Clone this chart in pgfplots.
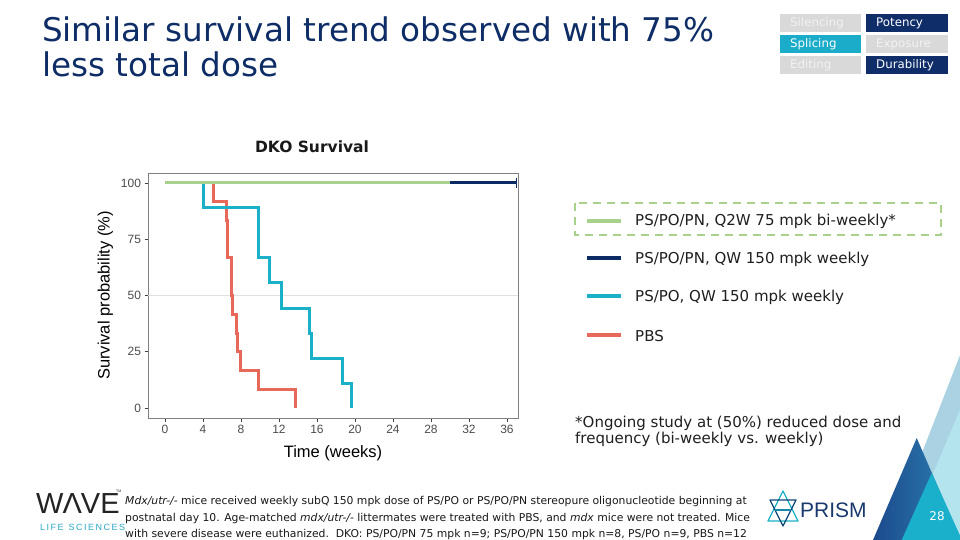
\documentclass[border=0pt]{standalone}
\usepackage{pgfplots}
\pgfplotsset{compat=1.18}
\usepackage{fontspec}
\setmainfont{DejaVu Sans}
\newfontfamily\lib{Liberation Sans}
\definecolor{navy}{RGB}{12,43,100}
\definecolor{titleblue}{RGB}{14,45,102}
\definecolor{lgreen}{RGB}{169,209,142}
\definecolor{cyanc}{RGB}{26,176,200}
\definecolor{redc}{RGB}{232,104,90}
\definecolor{boxgray}{RGB}{217,217,217}
\definecolor{boxtext}{RGB}{242,242,242}
\definecolor{boxnavy}{RGB}{15,45,105}
\definecolor{boxcyan}{RGB}{26,172,200}
\definecolor{palesteel}{RGB}{170,210,226}
\definecolor{palecyan}{RGB}{180,229,239}
\definecolor{darktri1}{RGB}{28,74,140}
\definecolor{darktri2}{RGB}{45,130,180}
\definecolor{tricyan}{RGB}{26,175,202}
\definecolor{logogray}{RGB}{35,35,35}
\definecolor{logocyan}{RGB}{42,169,201}
\definecolor{prismnavy}{RGB}{26,58,110}
\begin{document}
\begin{tikzpicture}[x=1pt,y=1pt]
\begin{scope}[y=-1pt]
\path[use as bounding box, fill=white] (0,0) rectangle (960,540);
% title
\node[anchor=base west, text=titleblue, font=\fontsize{32.6}{36}\selectfont, inner sep=0pt] at (42,42) {Similar survival trend observed with 75\%};
\node[anchor=base west, text=titleblue, font=\fontsize{32.6}{36}\selectfont, inner sep=0pt] at (42,77) {less total dose};
% top-right boxes
\fill[boxgray] (780,14) rectangle (861,32);
\node[anchor=west, text=boxtext, font=\fontsize{11.8}{13}\selectfont, inner sep=0pt] at (790,23) {Silencing};
\fill[boxnavy] (866,14) rectangle (948,32);
\node[anchor=west, text=white, font=\fontsize{11.8}{13}\selectfont, inner sep=0pt] at (876,23) {Potency};
\fill[boxcyan] (780,35) rectangle (861,53);
\node[anchor=west, text=white, font=\fontsize{11.8}{13}\selectfont, inner sep=0pt] at (790,44) {Splicing};
\fill[boxgray] (866,35) rectangle (948,53);
\node[anchor=west, text=boxtext, font=\fontsize{11.8}{13}\selectfont, inner sep=0pt] at (876,44) {Exposure};
\fill[boxgray] (780,56) rectangle (861,74);
\node[anchor=west, text=boxtext, font=\fontsize{11.8}{13}\selectfont, inner sep=0pt] at (790,65) {Editing};
\fill[boxnavy] (866,56) rectangle (948,74);
\node[anchor=west, text=white, font=\fontsize{11.8}{13}\selectfont, inner sep=0pt] at (876,65) {Durability};
% chart title
\node[font=\bfseries\fontsize{15.5}{18}\selectfont, text=black!90] at (312,147) {DKO Survival};
% legend
\draw[lgreen, line width=2pt, dash pattern=on 8pt off 6pt] (575,203) rectangle (941,235);
\draw[lgreen, line width=4pt] (587,221) -- (621,221);
\draw[navy, line width=4pt] (587,258) -- (621,258);
\draw[cyanc, line width=4pt] (587,296) -- (621,296);
\draw[redc, line width=4pt] (587,335) -- (621,335);
\tikzset{lt/.style={anchor=west, inner sep=0pt, font=\fontsize{15}{17}\selectfont, text=black!88}}
\node[lt] at (635,221) {PS/PO/PN, Q2W 75 mpk bi-weekly*};
\node[lt] at (635,259) {PS/PO/PN, QW 150 mpk weekly};
\node[lt] at (635,297) {PS/PO, QW 150 mpk weekly};
\node[lt] at (635,336) {PBS};
% footnote
\node[anchor=base west, inner sep=0pt, font=\fontsize{15}{17}\selectfont, text=black!88] at (575,427) {*Ongoing study at (50\%) reduced dose and};
\node[anchor=base west, inner sep=0pt, font=\fontsize{15}{17}\selectfont, text=black!88] at (575,443) {frequency (bi-weekly vs. weekly)};
% bottom text
\tikzset{bt/.style={anchor=base west, inner sep=0pt, font=\fontsize{10.8}{12}\selectfont, text=black!90}}
\node[bt] at (125,504) {\textit{Mdx/utr-/-} mice received weekly subQ 150 mpk dose of PS/PO or PS/PO/PN stereopure oligonucleotide beginning at};
\node[bt] at (125,521) {postnatal day 10. Age-matched \textit{mdx/utr-/-} littermates were treated with PBS, and \textit{mdx} mice were not treated. Mice};
\node[bt] at (125,537) {with severe disease were euthanized.\ \ DKO: PS/PO/PN 75 mpk n=9; PS/PO/PN 150 mpk n=8, PS/PO n=9, PBS n=12};
% WAVE logo
\node[anchor=base west, inner sep=0pt, text=logogray, font=\lib\fontsize{29}{30}\selectfont] at (36,513) {W\kern-1ptΛ\kern-1ptVE};
\node[anchor=base west, inner sep=0pt, text=logogray, font=\lib\fontsize{3.5}{4}\selectfont] at (116,492) {TM};
\node[anchor=base west, inner sep=0pt, text=logocyan, font=\lib\fontsize{9}{10}\selectfont] at (40,530) {L\,I\,F\,E\ \ S\,C\,I\,E\,N\,C\,E\,S};
% PRISM logo
\draw[cyanc, line width=1.3pt, line join=round] (768,521) -- (783,491) -- (798,521) -- cycle;
\draw[navy!80!cyanc, line width=1.3pt, line join=round] (770,500) -- (796,500) -- (783,526) -- cycle;
\draw[cyanc!70!navy, line width=1.3pt] (775,510) -- (791,510);
\node[anchor=base west, inner sep=0pt, text=prismnavy, font=\lib\fontsize{21}{22}\selectfont] at (800,517) {PRISM};
% bottom-right triangles
\fill[palesteel] (962,350) -- (888,540) -- (962,540) -- cycle;
\fill[palecyan] (962,405) -- (905,540) -- (962,540) -- cycle;
\shade[left color=darktri1, right color=darktri2] (916.7,438) -- (873,540) -- (961,540) -- cycle;
\fill[tricyan] (931.7,473) -- (901.7,540) -- (962,540) -- cycle;
\node[text=white, font=\fontsize{12}{14}\selectfont] at (937,516) {28};
\end{scope}
\begin{axis}[at={(148pt,-418pt)}, anchor=south west, scale only axis,
  width=370pt, height=245pt,
  xmin=-1.79, xmax=37.16, ymin=-4.44, ymax=104.44,
  xtick={0,4,...,36}, ytick={0,25,50,75,100},
  xtick pos=bottom, ytick pos=left,
  axis line style={draw=black!50, line width=0.9pt},
  tick align=outside, major tick length=3.5pt,
  every tick/.style={black!75, line width=0.9pt},
  tick label style={font=\lib\fontsize{12}{13}\selectfont, text=black!70},
  /pgf/number format/assume math mode=true,
  xlabel={Time (weeks)}, ylabel={Survival probability (\%)},
  label style={font=\lib\fontsize{16.5}{18}\selectfont, text=black},
  xlabel style={yshift=-5pt},
  ylabel style={yshift=1pt},
  every axis plot/.append style={line width=3pt},
]
\addplot[black!12, line width=0.8pt] coordinates {(-1.79,50) (37.16,50)};
\addplot[navy] coordinates {(0,100) (37,100)};
\addplot[navy, only marks, mark=|, mark size=5pt, mark options={line width=1.3pt}] coordinates {(37,100)};
\addplot[redc, const plot mark left] coordinates {(0,100) (5.1,91.67) (6.5,83.33) (6.6,66.67) (7.0,50) (7.1,41.67) (7.5,33.33) (7.6,25) (7.9,16.67) (9.8,8.33) (13.7,0)};
\addplot[cyanc, const plot mark left] coordinates {(0,100) (4,88.89) (9.8,66.67) (11.05,55.56) (12.3,44.44) (15.2,33.33) (15.4,22.22) (18.7,11.11) (19.6,0)};
\addplot[lgreen] coordinates {(0,100) (30,100)};
\end{axis}
\end{tikzpicture}
\end{document}
